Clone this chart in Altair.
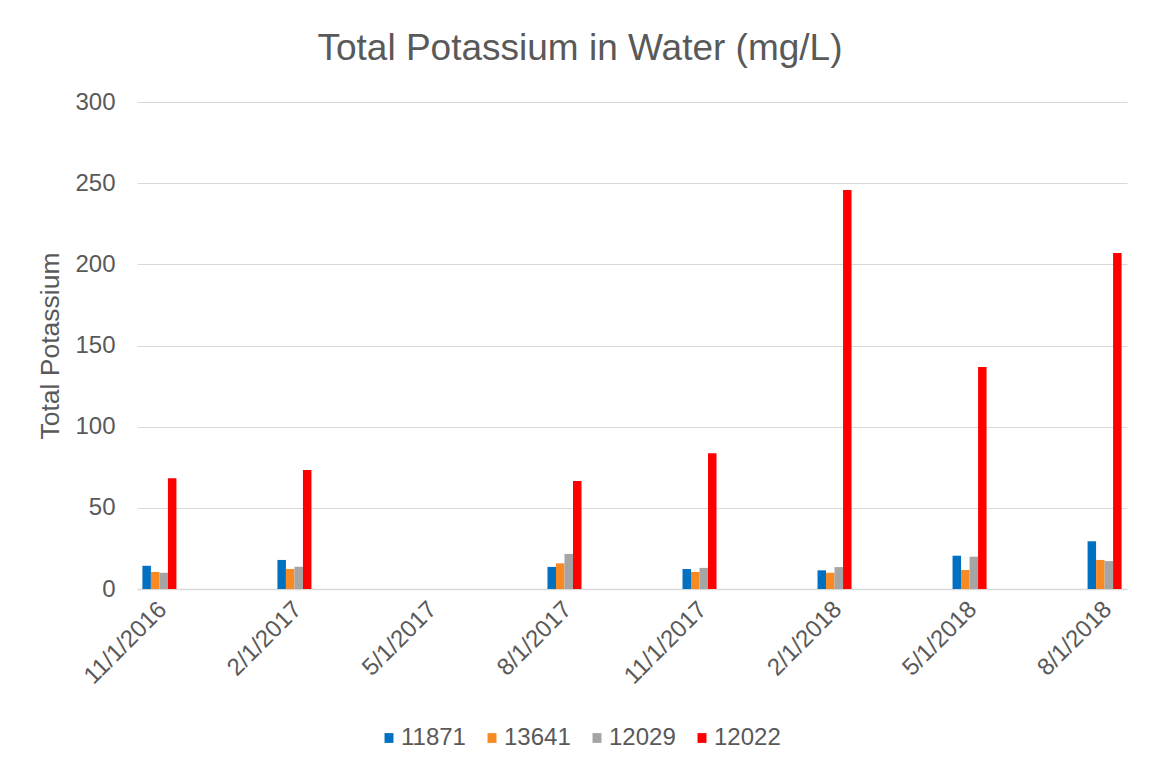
import altair as alt
import pandas as pd

dates = ["11/1/2016", "2/1/2017", "5/1/2017", "8/1/2017",
         "11/1/2017", "2/1/2018", "5/1/2018", "8/1/2018"]
series_names = ["11871", "13641", "12029", "12022"]
s11871 = [14.3, 17.9, None, 13.6, 12.3, 11.5, 20.5, 29.4]
s13641 = [10.5, 12.3, None, 15.8, 10.5, 10.0, 11.7, 17.9]
s12029 = [10.0, 13.7, None, 21.6, 13.0, 13.5, 19.9, 17.2]
s12022 = [68.2, 73.3, None, 66.5, 83.6, 245.8, 136.8, 207.0]
colors = ["#0070C0", "#F88A24", "#A5A5A5", "#FF0000"]
y_ticks = [0, 50, 100, 150, 200, 250, 300]

rows = []
for name, vals in zip(series_names, [s11871, s13641, s12029, s12022]):
    for d, v in zip(dates, vals):
        if v is not None:
            rows.append({"date": d, "series": name, "value": v})
df = pd.DataFrame(rows)

FONT = "Liberation Sans"
TXT = "#595959"

chart = alt.Chart(df).mark_bar().encode(
    x=alt.X("date:N", sort=dates,
            scale=alt.Scale(domain=dates, paddingInner=0.748, paddingOuter=0.04),
            axis=alt.Axis(title=None, labelAngle=-45, labelFontSize=24, labelColor=TXT,
                          labelFont=FONT, ticks=False, domainColor="#d9d9d9",
                          domainWidth=1.5, labelPadding=8, labelOffset=-5, grid=False)),
    xOffset=alt.XOffset("series:N", sort=series_names,
                        scale=alt.Scale(domain=series_names, paddingInner=0, paddingOuter=0)),
    y=alt.Y("value:Q", scale=alt.Scale(domain=[0, 300], nice=False),
            axis=alt.Axis(title="Total Potassium", values=y_ticks, labelFontSize=24,
                          labelColor=TXT, labelFont=FONT, titleFont=FONT, titleFontSize=26.5,
                          titleFontWeight="normal", titleColor=TXT, titlePadding=10,
                          domain=False, ticks=False, labelPadding=22,
                          gridColor="#d9d9d9", gridWidth=1.2)),
    color=alt.Color("series:N", sort=series_names,
                    scale=alt.Scale(domain=series_names, range=colors),
                    legend=alt.Legend(title=None, orient="none", legendX=240, legendY=624,
                                      direction="horizontal", columns=4,
                                      symbolType="M-1,-1.1H1V1.1H-1Z",
                                      symbolSize=80, symbolStrokeWidth=0,
                                      labelFontSize=24, labelColor=TXT, labelFont=FONT,
                                      columnPadding=14, labelOffset=0)),
).properties(
    width=990, height=487,
    title=alt.Title("Total Potassium in Water (mg/L)", fontSize=37, font=FONT,
                    fontWeight="normal", color=TXT, dx=-52, offset=22),
    autosize=alt.AutoSizeParams(type="none"),
    padding={"left": 129, "top": 94, "right": 20, "bottom": 170},
).configure(background="white", view=alt.ViewConfig(stroke=None))

chart.save("out.html", embed_options={"renderer": "svg", "actions": False})
